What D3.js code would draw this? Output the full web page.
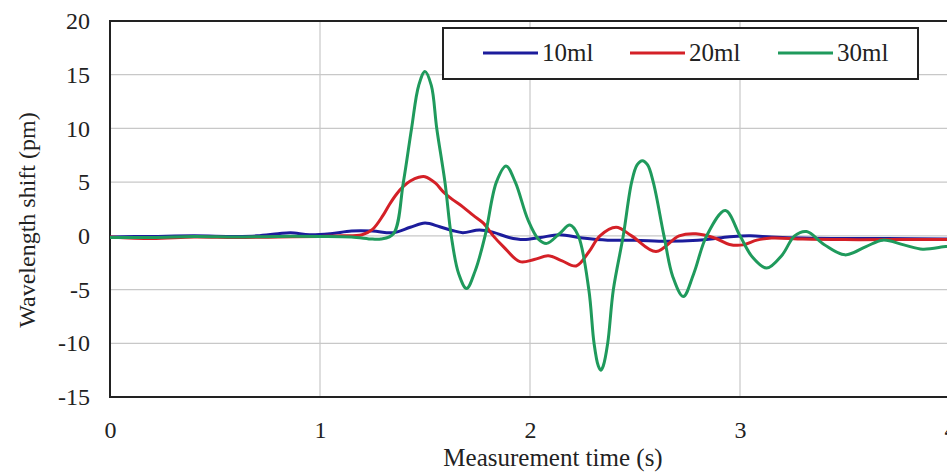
<!DOCTYPE html>
<html>
<head>
<meta charset="utf-8">
<script src="https://cdn.jsdelivr.net/npm/d3@7"></script>
<style>
  body { margin: 0; background: #fff; overflow: hidden; }
  text { font-family: "Liberation Serif", "Times New Roman", serif; fill: #222; }
</style>
</head>
<body>
<div id="chart"></div>
<script>
// values
const time10 = [0,0.2,0.4,0.6,0.7,0.8,0.86,0.95,1.05,1.15,1.25,1.35,1.43,1.5,1.57,1.63,1.68,1.76,1.83,1.9,1.97,2.05,2.14,2.25,2.37,2.5,2.65,2.8,2.9,2.97,3.05,3.15,3.3,3.5,3.7,4.0];
const shift10 = [-0.1,-0.05,0.0,-0.05,0.0,0.2,0.3,0.1,0.2,0.45,0.45,0.3,0.8,1.2,0.85,0.5,0.3,0.55,0.3,-0.15,-0.35,-0.15,0.1,-0.2,-0.4,-0.4,-0.5,-0.4,-0.2,-0.05,0.0,-0.1,-0.2,-0.25,-0.25,-0.3];

const time20 = [0,0.2,0.4,0.6,0.8,1.0,1.1,1.2,1.25,1.3,1.33,1.365,1.397,1.43,1.47,1.5,1.55,1.587,1.63,1.68,1.73,1.778,1.825,1.873,1.952,2.02,2.087,2.15,2.22,2.28,2.333,2.41,2.484,2.6,2.71,2.79,2.88,2.95,3.015,3.08,3.15,3.3,3.5,3.7,4.0];
const shift20 = [-0.1,-0.25,-0.1,-0.15,-0.1,-0.05,0.0,0.1,0.6,1.9,2.9,3.9,4.6,5.1,5.45,5.5,4.9,4.1,3.4,2.7,1.9,1.18,0.0,-1.0,-2.4,-2.2,-1.86,-2.3,-2.8,-1.5,0.0,0.8,0.0,-1.46,0.0,0.2,-0.2,-0.8,-0.84,-0.4,-0.2,-0.3,-0.35,-0.35,-0.35];

const time30 = [0,0.2,0.4,0.6,0.8,1.0,1.15,1.25,1.29,1.35,1.397,1.436,1.47,1.5,1.53,1.556,1.595,1.625,1.66,1.698,1.74,1.786,1.84,1.886,1.93,1.99,2.04,2.08,2.14,2.19,2.23,2.28,2.305,2.325,2.337,2.349,2.37,2.397,2.444,2.484,2.51,2.535,2.56,2.587,2.638,2.68,2.73,2.78,2.841,2.93,3.0,3.06,3.127,3.2,3.26,3.317,3.4,3.5,3.6,3.68,3.78,3.87,3.98,4.0];
const shift30 = [-0.15,-0.15,-0.05,-0.1,-0.05,-0.05,-0.1,-0.3,-0.3,0.2,5.0,10.0,14.0,15.3,14.0,10.0,5.0,0.0,-3.5,-4.9,-3.2,0.0,5.0,6.5,5.0,1.5,-0.3,-0.7,0.2,1.0,0.0,-5.0,-10.0,-12.1,-12.5,-12.1,-10.0,-5.0,0.0,5.0,6.6,7.0,6.6,5.0,0.0,-3.8,-5.65,-3.5,0.0,2.36,0.0,-2.0,-3.0,-1.8,0.0,0.4,-0.8,-1.77,-1.0,-0.4,-0.84,-1.24,-1.0,-1.0];

const seriesNames = ["10ml", "20ml", "30ml"];
const seriesColors = ["#1c1c9c", "#d42027", "#1f9a5c"];
const xTicks = [0, 1, 2, 3, 4];
const yTicks = [-15, -10, -5, 0, 5, 10, 15, 20];

const width = 947, height = 473;
const plotLeft = 110, plotRight = 950, plotTop = 21, plotBottom = 397;

const svg = d3.select("#chart").append("svg")
    .attr("width", width)
    .attr("height", height);

const x = d3.scaleLinear().domain([0, 4]).range([plotLeft, plotRight]);
const y = d3.scaleLinear().domain([-15, 20]).range([plotBottom, plotTop]);

// gridlines
svg.append("g")
   .selectAll("line")
   .data(yTicks.filter(d => d > -15 && d < 20))
   .join("line")
   .attr("x1", plotLeft).attr("x2", plotRight)
   .attr("y1", d => y(d)).attr("y2", d => y(d))
   .attr("stroke", "#c8c8c8").attr("stroke-width", 1.2);

svg.append("g")
   .selectAll("line")
   .data(xTicks.filter(d => d > 0 && d < 4))
   .join("line")
   .attr("x1", d => x(d)).attr("x2", d => x(d))
   .attr("y1", plotTop).attr("y2", plotBottom)
   .attr("stroke", "#c8c8c8").attr("stroke-width", 1.2);

// axes, labels only (the frame is drawn separately); plain hyphen for negatives
const xAxis = svg.append("g")
    .attr("transform", `translate(0,${plotBottom})`)
    .call(d3.axisBottom(x).tickValues(xTicks).tickSize(0).tickPadding(24).tickFormat(d => String(d)));
const yAxis = svg.append("g")
    .attr("transform", `translate(${plotLeft},0)`)
    .call(d3.axisLeft(y).tickValues(yTicks).tickSize(0).tickPadding(20).tickFormat(d => String(d)));
[xAxis, yAxis].forEach(a => {
    a.select(".domain").remove();
    a.selectAll("text").attr("font-size", 24).attr("font-family", null).attr("fill", "#222");
});

// plot frame
svg.append("rect")
   .attr("x", plotLeft).attr("y", plotTop)
   .attr("width", plotRight - plotLeft).attr("height", plotBottom - plotTop)
   .attr("fill", "none").attr("stroke", "#222").attr("stroke-width", 2);

// lines
svg.append("clipPath").attr("id", "plot-clip")
   .append("rect").attr("x", plotLeft).attr("y", plotTop)
   .attr("width", plotRight - plotLeft).attr("height", plotBottom - plotTop);

const line = d3.line()
    .x(d => x(d[0]))
    .y(d => y(d[1]))
    .curve(d3.curveCatmullRom.alpha(0.5));

const series = [
    d3.zip(time10, shift10),
    d3.zip(time20, shift20),
    d3.zip(time30, shift30)
];

svg.append("g").attr("clip-path", "url(#plot-clip)")
   .selectAll("path")
   .data(series)
   .join("path")
   .attr("d", line)
   .attr("fill", "none")
   .attr("stroke", (d, i) => seriesColors[i])
   .attr("stroke-width", 3)
   .attr("stroke-linejoin", "round");

// legend
const legend = svg.append("g");
legend.append("rect")
   .attr("x", 443).attr("y", 28).attr("width", 475).attr("height", 51)
   .attr("fill", "#fff").attr("stroke", "#222").attr("stroke-width", 2);

const legendX = [483, 630, 778];
seriesNames.forEach((name, i) => {
    legend.append("line")
       .attr("x1", legendX[i]).attr("x2", legendX[i] + 55)
       .attr("y1", 53).attr("y2", 53)
       .attr("stroke", seriesColors[i]).attr("stroke-width", 3);
    legend.append("text")
       .attr("x", legendX[i] + 59).attr("y", 61)
       .attr("font-size", 25)
       .text(name);
});

// axis titles
svg.append("text")
   .attr("x", 553).attr("y", 466)
   .attr("text-anchor", "middle")
   .attr("font-size", 25)
   .text("Measurement time (s)");

svg.append("text")
   .attr("transform", "translate(35,220) rotate(-90)")
   .attr("text-anchor", "middle")
   .attr("font-size", 24)
   .text("Wavelength shift (pm)");
</script>
</body>
</html>
